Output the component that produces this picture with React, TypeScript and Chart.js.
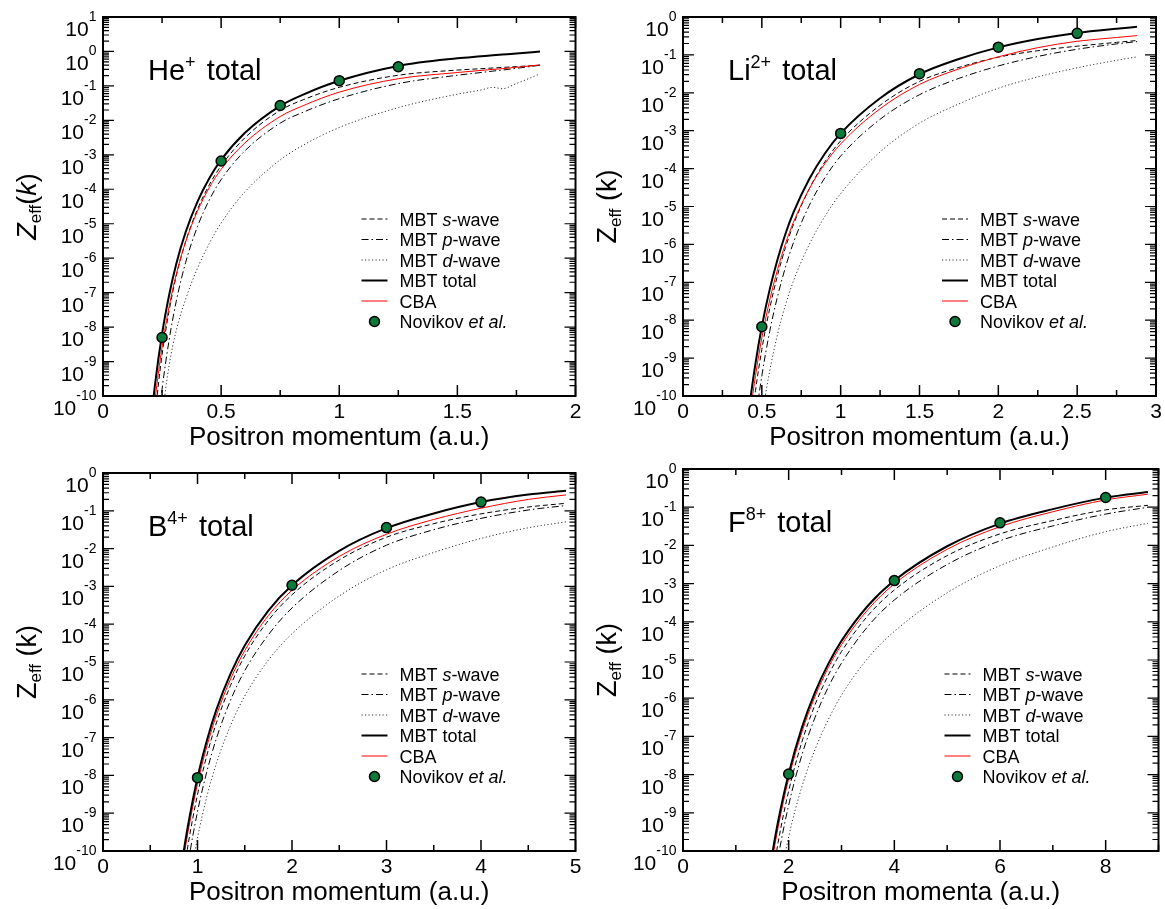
import React, { useEffect, useRef } from "react";
import { Chart, registerables } from "chart.js";

Chart.register(...registerables);

const FAMILY = '"Liberation Sans", Arial, Helvetica, sans-serif';

// ---------- He+ ----------
const heK = [0.2, 0.22, 0.25, 0.28, 0.31, 0.35, 0.4, 0.45, 0.5, 0.6, 0.75, 0.85, 1.0, 1.25, 1.5, 1.6, 1.65, 1.69, 1.75, 1.85];
const heTotal = [1.12e-11, 2.09e-10, 6.3e-9, 8.5e-8, 6.8e-7, 5.75e-6, 4.37e-5, 2.09e-4, 7.1e-4, 4.27e-3, 2.63e-2, 5.7e-2, 0.141, 0.38, 0.631, 0.724, 0.776, 0.813, 0.871, 1.0];
const heS = [8.9e-13, 2.63e-11, 1.58e-9, 3.02e-8, 3.02e-7, 3.09e-6, 2.63e-5, 1.35e-4, 4.79e-4, 3.09e-3, 1.95e-2, 4.03e-2, 9.1e-2, 0.204, 0.288, 0.316, 0.331, 0.343, 0.363, 0.398];
const heP = [5.6e-14, 2.09e-12, 1.58e-10, 4.27e-9, 5.6e-8, 7.6e-7, 8.3e-6, 4.9e-5, 1.91e-4, 1.29e-3, 8.3e-3, 1.76e-2, 4.27e-2, 0.117, 0.204, 0.245, 0.269, 0.288, 0.324, 0.398];
const heD = [2.51e-14, 5.0e-13, 2.51e-11, 7.9e-10, 7.9e-9, 6.5e-8, 5.1e-7, 2.69e-6, 1.05e-5, 8.3e-5, 7.1e-4, 1.95e-3, 6.2e-3, 2.34e-2, 5.75e-2, 7.6e-2, 9.1e-2, 8.3e-2, 0.117, 0.224];
const heCba = [3.55e-12, 7.4e-11, 2.63e-9, 3.98e-8, 3.39e-7, 3.02e-6, 2.34e-5, 1.12e-4, 3.8e-4, 2.19e-3, 1.29e-2, 2.72e-2, 6.6e-2, 0.162, 0.245, 0.282, 0.302, 0.316, 0.347, 0.407];
const heNovK = [0.25, 0.5, 0.75, 1.0, 1.25];
const heNov = [5.0e-9, 6.6e-4, 2.7e-2, 0.142, 0.36];
const heXTicks = [0, 0.5, 1, 1.5, 2];

// ---------- Li2+ ----------
const liK = [0.4, 0.43, 0.46, 0.5, 0.55, 0.6, 0.65, 0.7, 0.8, 0.9, 1.0, 1.25, 1.5, 1.75, 2.0, 2.25, 2.5, 2.75, 2.88];
const liTotal = [1.0e-11, 1.0e-10, 7.4e-10, 6.8e-9, 6.5e-8, 4.07e-7, 1.91e-6, 6.9e-6, 5.25e-5, 2.51e-4, 8.5e-4, 7.2e-3, 3.09e-2, 7.8e-2, 0.158, 0.263, 0.38, 0.49, 0.55];
const liS = [1.0e-12, 1.41e-11, 1.41e-10, 1.7e-9, 2.04e-8, 1.55e-7, 8.3e-7, 3.31e-6, 2.88e-5, 1.51e-4, 5.4e-4, 4.68e-3, 2.0e-2, 4.68e-2, 8.7e-2, 0.129, 0.17, 0.214, 0.24];
const liP = [1.26e-13, 2.0e-12, 2.34e-11, 3.39e-10, 5.1e-9, 4.27e-8, 2.51e-7, 1.1e-6, 1.05e-5, 5.75e-5, 2.14e-4, 2.0e-3, 8.9e-3, 2.4e-2, 5.1e-2, 9.1e-2, 0.141, 0.195, 0.224];
const liD = [1.0e-14, 1.26e-13, 1.48e-12, 2.69e-11, 4.57e-10, 4.27e-9, 2.51e-8, 1.07e-7, 9.8e-7, 5.5e-6, 2.19e-5, 2.75e-4, 1.58e-3, 5.1e-3, 1.32e-2, 2.63e-2, 4.57e-2, 7.2e-2, 8.9e-2];
const liCba = [3.98e-12, 4.37e-11, 3.47e-10, 3.39e-9, 3.39e-8, 2.19e-7, 1.05e-6, 3.8e-6, 2.88e-5, 1.35e-4, 4.47e-4, 3.8e-3, 1.66e-2, 4.27e-2, 8.9e-2, 0.155, 0.229, 0.288, 0.324];
const liNovK = [0.5, 1.0, 1.5, 2.0, 2.5];
const liNov = [6.7e-9, 8.5e-4, 3.2e-2, 0.16, 0.37];
const liXTicks = [0, 0.5, 1, 1.5, 2, 2.5, 3];

// ---------- B4+ ----------
const bK = [0.8, 0.85, 0.9, 1.0, 1.1, 1.2, 1.35, 1.5, 1.75, 2.0, 2.5, 3.0, 3.5, 4.0, 4.5, 4.9];
const bTotal = [1.12e-11, 8.3e-11, 4.79e-10, 8.7e-9, 8.5e-8, 5.5e-7, 4.9e-6, 2.75e-5, 2.29e-4, 1.07e-3, 8.7e-3, 3.47e-2, 8.5e-2, 0.17, 0.269, 0.339];
const bS = [2.24e-12, 2.09e-11, 1.45e-10, 3.09e-9, 3.47e-8, 2.45e-7, 2.4e-6, 1.45e-5, 1.26e-4, 6.0e-4, 5.0e-3, 2.0e-2, 4.57e-2, 8.3e-2, 0.126, 0.158];
const bP = [5.6e-13, 5.9e-12, 4.57e-11, 1.1e-9, 1.29e-8, 9.5e-8, 9.8e-7, 5.9e-6, 5.25e-5, 2.69e-4, 2.63e-3, 1.23e-2, 3.16e-2, 6.3e-2, 0.105, 0.138];
const bD = [8.9e-14, 9.3e-13, 7.6e-12, 2.19e-10, 2.82e-9, 2.09e-8, 2.09e-7, 1.26e-6, 1.12e-5, 5.6e-5, 5.6e-4, 2.75e-3, 7.9e-3, 1.86e-2, 3.55e-2, 5.1e-2];
const bCba = [7.1e-12, 5.5e-11, 3.24e-10, 6.0e-9, 6.0e-8, 3.89e-7, 3.55e-6, 2.0e-5, 1.7e-4, 7.9e-4, 6.2e-3, 2.4e-2, 5.9e-2, 0.117, 0.2, 0.263];
const bNovK = [1, 2, 3, 4];
const bNov = [8.7e-9, 1.07e-3, 3.6e-2, 0.17];
const bXTicks = [0, 1, 2, 3, 4, 5];

// ---------- F8+ ----------
const fK = [1.6, 1.7, 1.8, 2.0, 2.25, 2.5, 2.75, 3.0, 3.5, 4.0, 5.0, 6.0, 7.0, 8.0, 8.8];
const fTotal = [1.35e-11, 1.02e-10, 5.9e-10, 1.05e-8, 1.7e-7, 1.45e-6, 7.9e-6, 3.16e-5, 2.63e-4, 1.2e-3, 9.5e-3, 3.72e-2, 8.9e-2, 0.178, 0.251];
const fS = [2.14e-12, 2.29e-11, 1.66e-10, 3.72e-9, 7.1e-8, 6.8e-7, 3.98e-6, 1.66e-5, 1.45e-4, 6.8e-4, 5.4e-3, 2.0e-2, 4.47e-2, 8.5e-2, 0.112];
const fP = [6.8e-13, 8.1e-12, 6.6e-11, 1.58e-9, 3.24e-8, 3.16e-7, 1.95e-6, 8.3e-6, 7.6e-5, 3.72e-4, 3.16e-3, 1.32e-2, 3.24e-2, 6.6e-2, 0.1];
const fD = [3.39e-14, 5.1e-13, 7.4e-12, 2.34e-10, 4.79e-9, 4.57e-8, 2.75e-7, 1.2e-6, 1.12e-5, 5.6e-5, 5.75e-4, 2.95e-3, 9.1e-3, 2.29e-2, 3.8e-2];
const fCba = [8.5e-12, 6.9e-11, 4.17e-10, 7.8e-9, 1.29e-7, 1.12e-6, 6.3e-6, 2.51e-5, 2.09e-4, 9.8e-4, 7.9e-3, 3.09e-2, 7.6e-2, 0.155, 0.219];
const fNovK = [2, 4, 6, 8];
const fNov = [1.04e-8, 1.2e-3, 3.9e-2, 0.18];
const fXTicks = [0, 2, 4, 6, 8];

// ---------- text helpers ----------
type Seg = { t: string; size: number; italic?: boolean; dy?: number; gap?: number };

const fontOf = (s: Seg) => `${s.italic ? "italic " : ""}${s.size}px ${FAMILY}`;

function segWidth(ctx: CanvasRenderingContext2D, s: Seg) {
  ctx.font = fontOf(s);
  return ctx.measureText(s.t).width + (s.gap || 0);
}

function drawSegs(
  ctx: CanvasRenderingContext2D,
  segs: Seg[],
  x: number,
  y: number,
  align: "left" | "center" | "right"
) {
  const total = segs.reduce((w, s) => w + segWidth(ctx, s), 0);
  let cx = align === "left" ? x : align === "center" ? x - total / 2 : x - total;
  ctx.textAlign = "left";
  ctx.textBaseline = "alphabetic";
  for (const s of segs) {
    ctx.font = fontOf(s);
    ctx.fillText(s.t, cx, y + (s.dy || 0));
    cx += segWidth(ctx, s);
  }
}

// ---------- series styles ----------
const STYLE = {
  s: { color: "#000", width: 1, dash: [5, 3] },
  p: { color: "#000", width: 1, dash: [7, 3, 1.5, 3] },
  d: { color: "#333", width: 1, dash: [1.2, 2.3] },
  total: { color: "#000", width: 2, dash: [] as number[] },
  cba: { color: "#ff0000", width: 1, dash: [] as number[] },
};
const NOV_FILL = "#0b7a3a";

const LEGEND: { kind: keyof typeof STYLE | "nov"; segs: Seg[] }[] = [
  { kind: "s", segs: [{ t: "MBT ", size: 18 }, { t: "s", size: 18, italic: true }, { t: "-wave", size: 18 }] },
  { kind: "p", segs: [{ t: "MBT ", size: 18 }, { t: "p", size: 18, italic: true }, { t: "-wave", size: 18 }] },
  { kind: "d", segs: [{ t: "MBT ", size: 18 }, { t: "d", size: 18, italic: true }, { t: "-wave", size: 18 }] },
  { kind: "total", segs: [{ t: "MBT total", size: 18 }] },
  { kind: "cba", segs: [{ t: "CBA", size: 18 }] },
  { kind: "nov", segs: [{ t: "Novikov ", size: 18 }, { t: "et al.", size: 18, italic: true }] },
];

interface PanelSpec {
  x: number;
  y: number;
  w: number;
  h: number;
  pad: { left: number; top: number; right: number; bottom: number };
  xMax: number;
  xTicks: number[];
  xMinor: number;
  yMaxExp: number;
  ion: string;
  charge: string;
  italicTitle: boolean;
  xTitle: string;
  k: number[];
  s: number[];
  p: number[];
  d: number[];
  total: number[];
  cba: number[];
  novK: number[];
  nov: number[];
}

const PANELS: PanelSpec[] = [
  {
    x: 0, y: 0, w: 582, h: 460,
    pad: { left: 103, top: 17, right: 6, bottom: 64 },
    xMax: 2, xTicks: heXTicks, xMinor: 0.25, yMaxExp: 1,
    ion: "He", charge: "+", italicTitle: true, xTitle: "Positron momentum (a.u.)",
    k: heK, s: heS, p: heP, d: heD, total: heTotal, cba: heCba, novK: heNovK, nov: heNov,
  },
  {
    x: 582, y: 0, w: 583, h: 460,
    pad: { left: 101, top: 17, right: 9, bottom: 64 },
    xMax: 3, xTicks: liXTicks, xMinor: 0.25, yMaxExp: 0,
    ion: "Li", charge: "2+", italicTitle: false, xTitle: "Positron momentum (a.u.)",
    k: liK, s: liS, p: liP, d: liD, total: liTotal, cba: liCba, novK: liNovK, nov: liNov,
  },
  {
    x: 0, y: 440, w: 582, h: 469,
    pad: { left: 103, top: 33, right: 6, bottom: 58 },
    xMax: 5, xTicks: bXTicks, xMinor: 0.5, yMaxExp: 0,
    ion: "B", charge: "4+", italicTitle: false, xTitle: "Positron momentum (a.u.)",
    k: bK, s: bS, p: bP, d: bD, total: bTotal, cba: bCba, novK: bNovK, nov: bNov,
  },
  {
    x: 582, y: 440, w: 583, h: 469,
    pad: { left: 101, top: 29, right: 6, bottom: 58 },
    xMax: 9, xTicks: fXTicks, xMinor: 1, yMaxExp: 0,
    ion: "F", charge: "8+", italicTitle: false, xTitle: "Positron momenta (a.u.)",
    k: fK, s: fS, p: fP, d: fD, total: fTotal, cba: fCba, novK: fNovK, nov: fNov,
  },
];

const zip = (xs: number[], ys: number[]) => xs.map((x, i) => ({ x, y: ys[i] }));

function decorations(spec: PanelSpec) {
  return {
    id: "decorations",
    afterDraw(chart: any) {
      const ctx: CanvasRenderingContext2D = chart.ctx;
      const a = chart.chartArea;
      const xs = chart.scales.x;
      const ys = chart.scales.y;
      ctx.save();
      ctx.fillStyle = "#000";
      ctx.strokeStyle = "#000";
      ctx.setLineDash([]);

      // ticks on all four sides, pointing inward
      ctx.lineWidth = 1.5;
      const nMinor = Math.round(spec.xMax / spec.xMinor);
      ctx.beginPath();
      for (let i = 0; i <= nMinor; i++) {
        const v = i * spec.xMinor;
        const major = spec.xTicks.some((t) => Math.abs(t - v) < 1e-9);
        const len = major ? 11 : 6;
        const px = xs.getPixelForValue(v);
        ctx.moveTo(px, a.bottom);
        ctx.lineTo(px, a.bottom - len);
        ctx.moveTo(px, a.top);
        ctx.lineTo(px, a.top + len);
      }
      ctx.stroke();

      ctx.lineWidth = 1.2;
      ctx.beginPath();
      for (let n = -10; n <= spec.yMaxExp; n++) {
        const py = ys.getPixelForValue(Math.pow(10, n));
        ctx.moveTo(a.left, py);
        ctx.lineTo(a.left + 11, py);
        ctx.moveTo(a.right, py);
        ctx.lineTo(a.right - 11, py);
        if (n < spec.yMaxExp) {
          for (let m = 2; m <= 9; m++) {
            const pm = ys.getPixelForValue(m * Math.pow(10, n));
            ctx.moveTo(a.left, pm);
            ctx.lineTo(a.left + 6, pm);
            ctx.moveTo(a.right, pm);
            ctx.lineTo(a.right - 6, pm);
          }
        }
      }
      ctx.stroke();

      // frame
      ctx.lineWidth = 2;
      ctx.strokeRect(a.left, a.top, a.right - a.left, a.bottom - a.top);

      // x tick labels
      for (const t of spec.xTicks) {
        drawSegs(ctx, [{ t: String(t), size: 21 }], xs.getPixelForValue(t), a.bottom + 22, "center");
      }
      // y tick labels 10^n
      for (let n = -10; n <= spec.yMaxExp; n++) {
        const py = ys.getPixelForValue(Math.pow(10, n));
        drawSegs(
          ctx,
          [
            { t: "10", size: 21 },
            { t: String(n), size: 14, dy: -15 },
          ],
          a.left - 6.5,
          py + 19,
          "right"
        );
      }

      // x axis title
      drawSegs(ctx, [{ t: spec.xTitle, size: 26 }], (a.left + a.right) / 2, a.bottom + 49, "center");

      // y axis title (rotated)
      ctx.save();
      ctx.translate(a.left - 67, (a.top + a.bottom) / 2);
      ctx.rotate(-Math.PI / 2);
      const ySegs: Seg[] = spec.italicTitle
        ? [
            { t: "Z", size: 27, italic: true },
            { t: "eff", size: 17, dy: 5 },
            { t: "(", size: 27 },
            { t: "k", size: 27, italic: true },
            { t: ")", size: 27 },
          ]
        : [
            { t: "Z", size: 27 },
            { t: "eff", size: 17, dy: 5 },
            { t: " (k)", size: 27 },
          ];
      drawSegs(ctx, ySegs, 0, 0, "center");
      ctx.restore();

      // panel title
      drawSegs(
        ctx,
        [
          { t: spec.ion, size: 29 },
          { t: spec.charge, size: 18, dy: -12, gap: 3 },
          { t: " total", size: 29 },
        ],
        a.left + 45,
        a.top + 63,
        "left"
      );

      // legend
      const lx0 = a.right - 214;
      const lx1 = a.right - 188;
      const tx = a.right - 176;
      LEGEND.forEach((row, i) => {
        const ly = a.bottom - 177 + i * 20.5;
        if (row.kind === "nov") {
          ctx.setLineDash([]);
          ctx.beginPath();
          ctx.arc((lx0 + lx1) / 2, ly, 5, 0, Math.PI * 2);
          ctx.fillStyle = NOV_FILL;
          ctx.fill();
          ctx.lineWidth = 1.5;
          ctx.strokeStyle = "#000";
          ctx.stroke();
        } else {
          const st = STYLE[row.kind];
          ctx.setLineDash(st.dash);
          ctx.strokeStyle = st.color;
          ctx.lineWidth = st.width;
          ctx.beginPath();
          ctx.moveTo(lx0, ly);
          ctx.lineTo(lx1, ly);
          ctx.stroke();
        }
        ctx.setLineDash([]);
        ctx.fillStyle = "#000";
        drawSegs(ctx, row.segs, tx, ly + 6.5, "left");
      });

      ctx.restore();
    },
  };
}

function curve(label: string, data: { x: number; y: number }[], st: { color: string; width: number; dash: number[] }, order: number) {
  return {
    label,
    data,
    showLine: true,
    borderColor: st.color,
    borderWidth: st.width,
    borderDash: st.dash,
    pointRadius: 0,
    pointHoverRadius: 0,
    fill: false,
    cubicInterpolationMode: "monotone",
    clip: 0,
    order,
  };
}

function PanelChart({ spec }: { spec: PanelSpec }) {
  const ref = useRef<HTMLCanvasElement>(null);
  useEffect(() => {
    if (!ref.current) return;
    const chart = new Chart(ref.current, {
      type: "scatter",
      data: {
        datasets: [
          {
            label: "Novikov et al.",
            data: zip(spec.novK, spec.nov),
            showLine: false,
            pointRadius: 5,
            pointHoverRadius: 5,
            pointBackgroundColor: NOV_FILL,
            pointBorderColor: "#000",
            pointBorderWidth: 1.5,
            clip: false,
            order: 0,
          },
          curve("MBT total", zip(spec.k, spec.total), STYLE.total, 1),
          curve("CBA", zip(spec.k, spec.cba), STYLE.cba, 2),
          curve("MBT s-wave", zip(spec.k, spec.s), STYLE.s, 3),
          curve("MBT p-wave", zip(spec.k, spec.p), STYLE.p, 4),
          curve("MBT d-wave", zip(spec.k, spec.d), STYLE.d, 5),
        ] as any,
      },
      options: {
        responsive: false,
        animation: false,
        events: [],
        layout: { padding: spec.pad },
        elements: { line: { tension: 0, capBezierPoints: false } },
        plugins: {
          legend: { display: false },
          tooltip: { enabled: false },
          title: { display: false },
        },
        scales: {
          x: { type: "linear", min: 0, max: spec.xMax, display: false },
          y: { type: "logarithmic", min: 1e-10, max: Math.pow(10, spec.yMaxExp), display: false },
        },
      } as any,
      plugins: [decorations(spec)],
    });
    return () => chart.destroy();
  }, [spec]);
  return (
    <canvas
      ref={ref}
      width={spec.w}
      height={spec.h}
      style={{ position: "absolute", left: spec.x, top: spec.y, width: spec.w, height: spec.h }}
    />
  );
}

export default function App() {
  return (
    <div style={{ position: "absolute", left: 0, top: 0, width: 1165, height: 909, background: "#fff", overflow: "hidden" }}>
      {PANELS.map((p, i) => (
        <PanelChart key={i} spec={p} />
      ))}
    </div>
  );
}
